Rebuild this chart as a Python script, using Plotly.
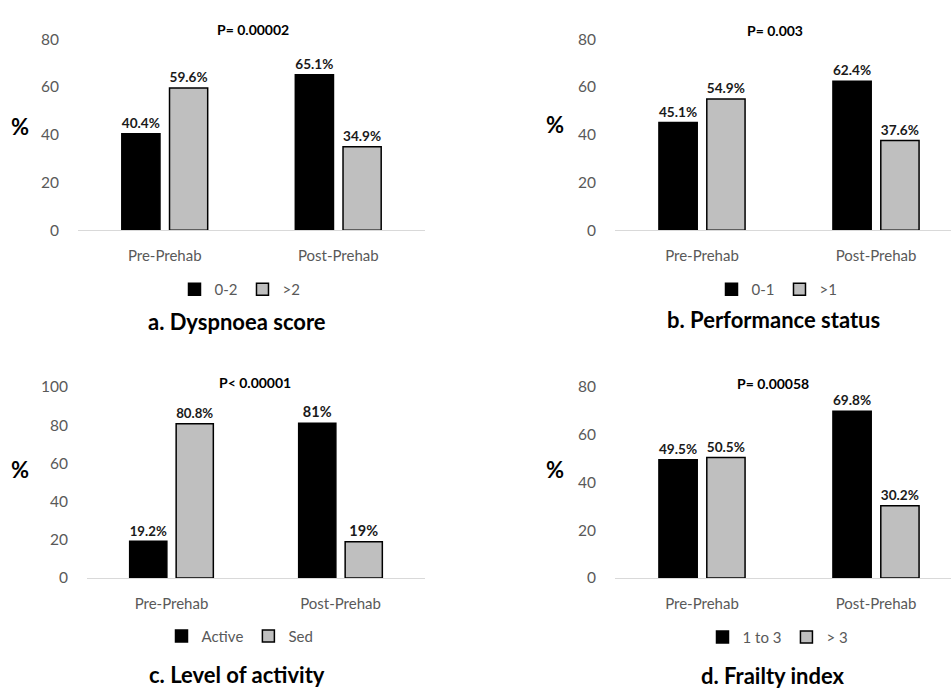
import plotly.graph_objects as go

# ---------------- data ----------------
categories = ["Pre-Prehab", "Post-Prehab"]

panel_titles = ["a. Dyspnoea score", "b. Performance status",
                "c. Level of activity", "d. Frailty index"]
p_values = ["P= 0.00002", "P= 0.003", "P< 0.00001", "P= 0.00058"]

series_names = [["0-2", ">2"], ["0-1", ">1"], ["Active", "Sed"], ["1 to 3", "> 3"]]

dyspnoea_low = [40.4, 65.1]
dyspnoea_high = [59.6, 34.9]
performance_low = [45.1, 62.4]
performance_high = [54.9, 37.6]
activity_active = [19.2, 81]
activity_sed = [80.8, 19]
frailty_low = [49.5, 69.8]
frailty_high = [50.5, 30.2]

values = [
    [dyspnoea_low, dyspnoea_high],
    [performance_low, performance_high],
    [activity_active, activity_sed],
    [frailty_low, frailty_high],
]
y_max = [80, 80, 100, 80]
y_tick_step = 20

# ---------------- layout helpers ----------------
W, H = 951, 695
FONT = "Lato"
TICK_COLOR = "#595959"
colors = ["#000000", "#bfbfbf"]


def fx(px):
    return px / W


def fy(py):
    return 1 - py / H


# plot areas in pixels (left, right, top, bottom)
areas = [
    (78, 425, 30, 226),
    (615, 951, 30, 226),
    (87, 425, 387, 583),
    (615, 951, 387, 583),
]
cat_width_px = [173.5, 174, 169, 174]

legend_pos = [(240, 287), (777, 287), (240, 643), (778, 644)]
title_pos = [(237, 320), (773, 318), (237, 682), (773, 683)]
p_pos = [(253, 20), (775, 21), (255, 382), (773, 383)]
pct_pos = [(20, 120), (555, 118), (20, 472), (555, 472)]

fig = go.Figure()
layout = dict(
    width=W, height=H,
    margin=dict(l=0, r=0, t=0, b=0),
    paper_bgcolor="white", plot_bgcolor="white",
    barmode="group", bargap=0.45, bargroupgap=0.2,
    font=dict(family=FONT, color=TICK_COLOR),
    annotations=[],
)

for i in range(4):
    n = "" if i == 0 else str(i + 1)
    xa, ya = "x" + n, "y" + n
    legend_name = "legend" + n
    for s in range(2):
        v = values[i][s]
        fig.add_trace(go.Bar(
            x=categories, y=v,
            name=series_names[i][s],
            xaxis=xa, yaxis=ya,
            legend=legend_name,
            marker=dict(color=colors[s], line=dict(color="#000000", width=1.5)),
            text=[f"{val:g}%" for val in v],
            textposition="outside",
            textfont=dict(family=FONT, size=14.5, color="#1a1a1a", weight="bold"),
            cliponaxis=False,
            hoverinfo="skip",
        ))

    l, r, t, b = areas[i]
    width_px = r - l
    x_range = [-0.5, -0.5 + width_px / cat_width_px[i]]
    layout["xaxis" + n] = dict(
        domain=[fx(l), fx(r)], anchor=ya,
        range=x_range,
        showline=True, linecolor="#d9d9d9", linewidth=1.2,
        showgrid=False, zeroline=False, ticks="",
        ticklabelstandoff=12,
        tickfont=dict(family=FONT, size=15, color=TICK_COLOR),
        fixedrange=True,
    )
    layout["yaxis" + n] = dict(
        domain=[fy(b), fy(t)], anchor=xa,
        range=[0, y_max[i]],
        tickmode="array",
        tickvals=list(range(0, y_max[i] + 1, y_tick_step)),
        showline=False, showgrid=False, zeroline=False, ticks="",
        ticklabelstandoff=18,
        tickfont=dict(family=FONT, size=15.5, color=TICK_COLOR),
        fixedrange=True,
    )
    lx, ly = legend_pos[i]
    layout[legend_name] = dict(
        orientation="h", x=fx(lx), y=fy(ly),
        xanchor="center", yanchor="middle",
        font=dict(family=FONT, size=15, color=TICK_COLOR),
        itemwidth=30, entrywidth=0, tracegroupgap=0,
        bgcolor="rgba(0,0,0,0)",
    )
    tx, ty = title_pos[i]
    layout["annotations"].append(dict(
        text=panel_titles[i], x=fx(tx), y=fy(ty), xref="paper", yref="paper",
        showarrow=False, xanchor="center", yanchor="middle",
        font=dict(family=FONT, size=22, color="#000000", weight="bold"),
    ))
    px_, py_ = p_pos[i]
    layout["annotations"].append(dict(
        text=p_values[i], x=fx(px_), y=fy(py_), xref="paper", yref="paper",
        showarrow=False, xanchor="center", yanchor="middle",
        font=dict(family=FONT, size=14, color="#000000", weight="bold"),
    ))
    qx, qy = pct_pos[i]
    layout["annotations"].append(dict(
        text="%", x=fx(qx), y=fy(qy), xref="paper", yref="paper",
        showarrow=False, xanchor="center", yanchor="middle",
        font=dict(family=FONT, size=22, color="#000000", weight="bold"),
    ))

fig.update_layout(**layout)
fig.write_html(
    "out.html",
    config={"displayModeBar": False},
    post_script="document.body.style.margin='0';document.body.style.overflow='hidden';",
)
